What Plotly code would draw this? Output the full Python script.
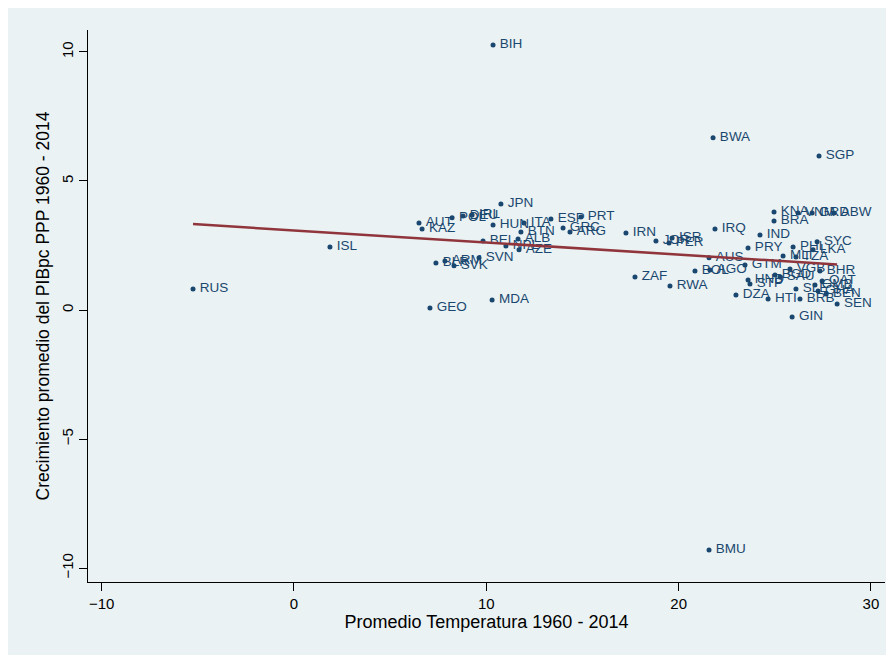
import plotly.graph_objects as go

# Country codes, mean temperature 1960-2014 and mean GDPpc PPP growth
countries = [
    "RUS", "ISL", "AUT", "KAZ", "POL", "DEU", "IRL", "JPN", "BIH", "HUN",
    "ITA", "ESP", "PRT", "GRC", "ARG", "BTN", "ALB", "NPL", "AZE", "BEL",
    "SVN", "BLR", "ARM", "SVK", "MDA", "GEO", "IRN", "JOR", "ISR", "PER",
    "ZAF", "RWA", "BOL", "AGO", "AUS", "IRQ", "BWA", "BMU", "GTM", "PRY",
    "IND", "DZA", "HTI", "HND", "STP", "BGD", "SAU", "KNA", "BRA", "VNM",
    "GRD", "ABW", "SGP", "SYC", "PHL", "LKA", "MLI", "TZA", "VGB", "BHR",
    "QAT", "SLE", "GMB", "GHA", "BEN", "SEN", "BRB", "GIN",
]
temperature = [
    -5.25, 1.87, 6.50, 6.66, 8.22, 8.79, 9.26, 10.76, 10.35, 10.35,
    11.96, 13.36, 14.92, 13.99, 14.35, 11.80, 11.65, 11.02, 11.70, 9.83,
    9.62, 7.38, 7.85, 8.32, 10.30, 7.07, 17.26, 18.82, 19.66, 19.50,
    17.73, 19.55, 20.85, 21.63, 21.58, 21.89, 21.79, 21.58, 23.45, 23.61,
    24.23, 22.98, 24.65, 23.61, 23.71, 25.01, 25.27, 24.96, 24.96, 26.21,
    26.94, 28.08, 27.30, 27.20, 25.95, 26.99, 25.43, 26.10, 25.79, 27.35,
    27.46, 26.10, 27.09, 27.25, 27.67, 28.24, 26.31, 25.90,
]
growth = [
    0.81, 2.44, 3.37, 3.14, 3.57, 3.64, 3.68, 4.11, 10.27, 3.29,
    3.37, 3.53, 3.60, 3.18, 3.02, 3.02, 2.75, 2.48, 2.33, 2.67,
    2.02, 1.82, 1.90, 1.71, 0.39, 0.08, 2.98, 2.67, 2.79, 2.60,
    1.28, 0.93, 1.51, 1.55, 2.02, 3.14, 6.67, -9.30, 1.74, 2.40,
    2.91, 0.58, 0.43, 1.16, 1.01, 1.36, 1.28, 3.80, 3.45, 3.76,
    3.76, 3.76, 5.97, 2.64, 2.44, 2.33, 2.09, 2.05, 1.59, 1.51,
    1.12, 0.81, 0.97, 0.74, 0.62, 0.23, 0.43, -0.27,
]

# Fitted values (linear fit)
fit_x = [-5.25, 28.24]
fit_y = [3.33, 1.76]

x_ticks = [-10, 0, 10, 20, 30]
y_ticks = [-10, -5, 0, 5, 10]

NAVY = "#1a476f"
MAROON = "#90353b"
BG = "#eaf2f3"
FONT = "Liberation Sans, Arial, sans-serif"

fig = go.Figure()

# thin space keeps the label a little away from its dot, as in Stata
fig.add_trace(go.Scatter(
    x=temperature,
    y=growth,
    mode="markers+text",
    text=["\u2009" + c for c in countries],
    textposition="middle right",
    textfont=dict(color=NAVY, size=13.5, family=FONT),
    marker=dict(color=NAVY, size=5),
    showlegend=False,
))

fig.add_trace(go.Scatter(
    x=fit_x,
    y=fit_y,
    mode="lines",
    line=dict(color=MAROON, width=2.5),
    showlegend=False,
))

# outer light frame (Stata graph region)
fig.add_shape(
    type="rect", xref="paper", yref="paper",
    x0=-80 / 797, x1=1 + 5 / 797, y0=-73 / 552, y1=1 + 22 / 552,
    fillcolor=BG, line=dict(width=0), layer="below",
)

fig.update_layout(
    width=886,
    height=652,
    paper_bgcolor="white",
    plot_bgcolor="white",
    margin=dict(l=80, r=9, t=22, b=78),
    font=dict(family=FONT, color="black"),
    xaxis=dict(
        range=[-10.71, 30.73],
        tickvals=x_ticks,
        ticks="outside",
        ticklen=8,
        tickcolor="black",
        tickfont=dict(size=15),
        showgrid=False,
        zeroline=False,
        showline=True,
        linecolor="black",
        linewidth=1,
        title=dict(text="Promedio Temperatura 1960 - 2014",
                   font=dict(size=18), standoff=3),
    ),
    yaxis=dict(
        range=[-10.54, 10.85],
        tickvals=y_ticks,
        ticks="outside",
        ticklen=8,
        tickcolor="black",
        tickangle=-90,
        tickfont=dict(size=15),
        showgrid=False,
        zeroline=False,
        showline=True,
        linecolor="black",
        linewidth=1,
        title=dict(text="Crecimiento promedio del PIBpc PPP 1960 - 2014",
                   font=dict(size=17.5), standoff=4),
    ),
)

fig.write_html("out.html")
